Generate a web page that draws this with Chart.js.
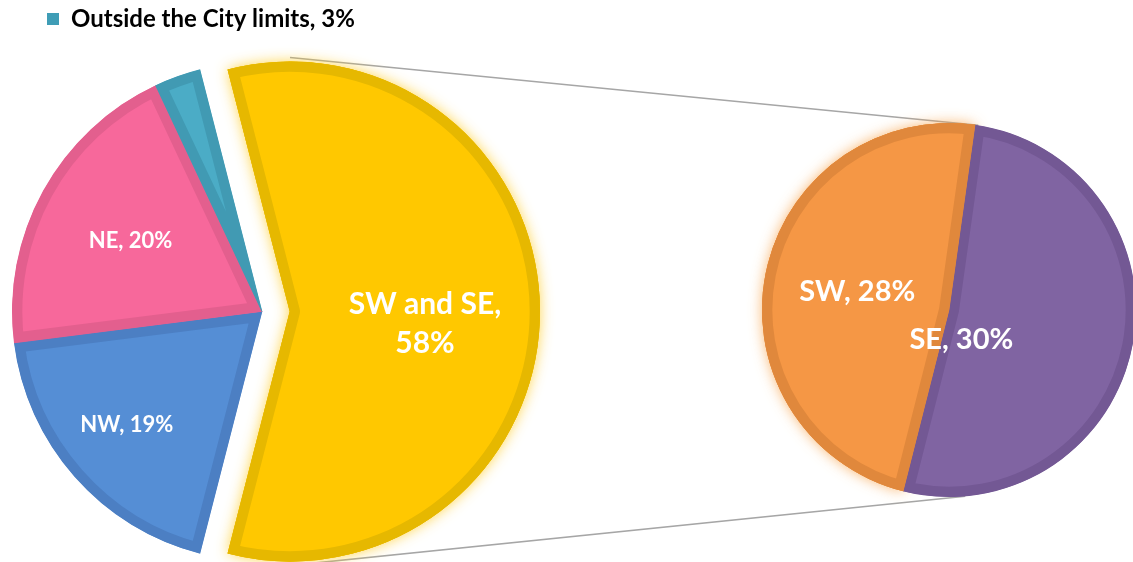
<!DOCTYPE html>
<html>
<head>
<meta charset="utf-8">
<script src="https://cdn.jsdelivr.net/npm/chart.js@4/dist/chart.umd.min.js"></script>
<style>
  html, body { margin: 0; padding: 0; background: #fff; overflow: hidden; }
  #wrap { position: relative; width: 1133px; height: 562px; overflow: hidden; }
  #wrap canvas { position: absolute; left: 0; top: 0; }
</style>
</head>
<body>
<div id="wrap">
  <canvas id="subPie" width="1133" height="562"></canvas>
  <canvas id="mainPie" width="1133" height="582"></canvas>
</div>
<script>
// main pie: the "SW and SE" slice is split out into the small pie on the right
const mainLabels = ['SW and SE', 'NW', 'NE', 'Outside the City limits'];
const mainValues = [58, 19, 20, 3];
const mainColors = ['#FFC800', '#558ED5', '#F7689B', '#4BACC6'];
const mainBorders = ['#E6B800', '#4C7FC3', '#E35F8E', '#419AB3'];

const subLabels = ['SE', 'SW'];
const subValues = [30, 28];
const subColors = ['#8064A2', '#F59745'];
const subBorders = ['#735894', '#E0883C'];

const FONT = 'Lato, "Open Sans", sans-serif';

// pull a slice out along its middle angle without making it bigger
const explode = {
  id: 'explode',
  afterDatasetUpdate(chart, args, opts) {
    args.meta.data.forEach((arc, i) => {
      const e = (opts.by || [])[i] || 0;
      if (!e) return;
      const mid = (arc.startAngle + arc.endAngle) / 2;
      arc.x += Math.cos(mid) * e;
      arc.y += Math.sin(mid) * e;
    });
  }
};

const glow = {
  id: 'glow',
  beforeDatasetsDraw(chart, args, opts) {
    const meta = chart.getDatasetMeta(0);
    const ctx = chart.ctx;
    (opts.items || []).forEach(it => {
      const arc = meta.data[it.index];
      ctx.save();
      ctx.shadowColor = it.color;
      ctx.shadowBlur = it.blur;
      arc.draw(ctx);
      ctx.restore();
    });
  }
};

const sliceLabels = {
  id: 'sliceLabels',
  afterDatasetsDraw(chart, args, opts) {
    const meta = chart.getDatasetMeta(0);
    const ctx = chart.ctx;
    meta.data.forEach((arc, i) => {
      const lines = opts.text(i);
      if (!lines) return;
      const mid = (arc.startAngle + arc.endAngle) / 2;
      const r = arc.outerRadius * opts.radius[i];
      const nudge = (opts.nudge && opts.nudge[i]) || [0, 0];
      const x = arc.x + Math.cos(mid) * r + nudge[0];
      const y = arc.y + Math.sin(mid) * r + nudge[1];
      const size = opts.size[i];
      const lh = size * 1.3;
      ctx.save();
      ctx.fillStyle = '#fff';
      ctx.font = 'bold ' + size + 'px ' + FONT;
      ctx.textAlign = 'center';
      ctx.textBaseline = 'middle';
      lines.forEach((ln, k) => {
        ctx.fillText(ln, x, y + (k - (lines.length - 1) / 2) * lh);
      });
      ctx.restore();
    });
  }
};

const mainRotation = 90 - mainValues[0] / mainValues.reduce((a, b) => a + b, 0) * 180;

const mainChart = new Chart(document.getElementById('mainPie'), {
  type: 'pie',
  data: {
    labels: mainLabels,
    datasets: [{
      data: mainValues,
      backgroundColor: mainColors,
      borderColor: mainBorders,
      borderWidth: 10,
      borderAlign: 'inner'
    }]
  },
  options: {
    responsive: false,
    animation: false,
    rotation: mainRotation,
    radius: 250,
    layout: { padding: { left: 40, right: 649, top: 0, bottom: 0 } },
    plugins: {
      tooltip: { enabled: false },
      legend: {
        position: 'top',
        align: 'start',
        labels: {
          color: '#000',
          font: { family: FONT, size: 24, weight: 'bold' },
          boxWidth: 12,
          boxHeight: 12,
          padding: 7,
          filter: item => item.index === 3,
          generateLabels(chart) {
            const items = Chart.controllers.pie.overrides.plugins.legend.labels.generateLabels(chart);
            return items.map(it => Object.assign(it, {
              text: mainLabels[it.index] + ', ' + mainValues[it.index] + '%',
              fillStyle: '#3F9DB6',
              strokeStyle: '#3F9DB6',
              lineWidth: 0
            }));
          }
        }
      },
      explode: { by: [28, 0, 0, 0] },
      glow: { items: [{ index: 0, color: 'rgba(255,205,40,0.85)', blur: 14 }] },
      sliceLabels: {
        text: i => i === 0 ? [mainLabels[0] + ',', mainValues[0] + '%']
                 : i === 3 ? null
                 : [mainLabels[i] + ', ' + mainValues[i] + '%'],
        radius: [0.54, 0.7, 0.6, 0.6],
        nudge: [[0, 12], [-4, -2], [0, 2], [0, 0]],
        size: [30, 22, 22, 22]
      }
    }
  },
  plugins: [explode, glow, sliceLabels]
});

const connectors = {
  id: 'connectors',
  beforeDatasetsDraw(chart, args, opts) {
    const src = mainChart.getDatasetMeta(0).data[0];
    const cx = src.x, cy = src.y, R = src.outerRadius + opts.extend;
    const dst = chart.getDatasetMeta(0).data[0];
    const px = a => dst.x + Math.sin(a * Math.PI / 180) * dst.outerRadius;
    const py = a => dst.y - Math.cos(a * Math.PI / 180) * dst.outerRadius;
    const ctx = chart.ctx;
    ctx.save();
    ctx.strokeStyle = '#A6A6A6';
    ctx.lineWidth = 1.6;
    ctx.beginPath();
    ctx.moveTo(cx, cy - R);
    ctx.lineTo(px(opts.top), py(opts.top));
    ctx.moveTo(cx, cy + R);
    ctx.lineTo(px(opts.bottom), py(opts.bottom));
    ctx.stroke();
    ctx.restore();
  }
};

new Chart(document.getElementById('subPie'), {
  type: 'pie',
  data: {
    labels: subLabels,
    datasets: [{
      data: subValues,
      backgroundColor: subColors,
      borderColor: subBorders,
      borderWidth: 10,
      borderAlign: 'inner'
    }]
  },
  options: {
    responsive: false,
    animation: false,
    rotation: 8,
    radius: 187,
    layout: { padding: { left: 765, right: 0, top: 58, bottom: 0 } },
    plugins: {
      tooltip: { enabled: false },
      legend: { display: false },
      connectors: { top: 9, bottom: 175, extend: 4 },
      glow: { items: [{ index: 1, color: 'rgba(247,160,70,0.8)', blur: 14 }] },
      sliceLabels: {
        text: i => [subLabels[i] + ', ' + subValues[i] + '%'],
        radius: [0.1, 0.5],
        nudge: [[-6, 26], [0, 0]],
        size: [29, 29]
      }
    }
  },
  plugins: [connectors, glow, sliceLabels]
});
</script>
</body>
</html>
